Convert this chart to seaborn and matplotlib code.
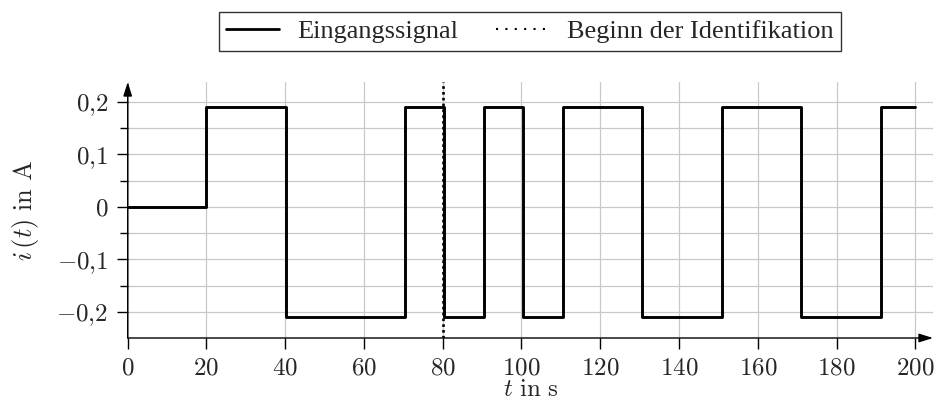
import numpy as np
import pandas as pd
import matplotlib
matplotlib.use("Agg")
import matplotlib.pyplot as plt
from matplotlib.lines import Line2D
import seaborn as sns

# Step input signal: switching instants (s) and current level held from each instant (A)
switch_times = [0, 20.0, 40.1, 70.3, 80.4, 90.5, 100.5, 110.6, 130.7, 150.9, 171.0, 191.2, 200]
current_levels = [0.0, 0.19, -0.21, 0.19, -0.21, 0.19, -0.21, 0.19, -0.21, 0.19, -0.21, 0.19, 0.19]
identification_start = 80

x_ticks = [0, 20, 40, 60, 80, 100, 120, 140, 160, 180, 200]
y_major = [-0.2, -0.1, 0.0, 0.1, 0.2]
y_major_labels = [r"$-0{,}2$", r"$-0{,}1$", r"$0$", r"$0{,}1$", r"$0{,}2$"]
y_minor = [-0.15, -0.05, 0.05, 0.15]

sns.set_theme(style="white")
plt.rcParams["font.family"] = ["Liberation Serif", "DejaVu Serif"]
plt.rcParams["mathtext.fontset"] = "cm"

df = pd.DataFrame({"t": switch_times, "i": current_levels})

fig = plt.figure(figsize=(9.37, 4.13), dpi=100)
ax = fig.add_axes([127.7 / 937, 1 - 338 / 413, (933 - 127.7) / 937, (338 - 82) / 413])

grid_col = "#c8c8c8"
for xv in x_ticks:
    ax.axvline(xv, color=grid_col, lw=0.9, zorder=0)
for yv in y_major + y_minor:
    ax.axhline(yv, color=grid_col, lw=0.9, zorder=0)

sns.lineplot(data=df, x="t", y="i", ax=ax, drawstyle="steps-post", color="black",
             lw=2.1, zorder=3, legend=False)
ax.axvline(identification_start, color="black", lw=1.9, ls=(0, (1, 1.2)), zorder=4)

ax.set_xlim(0, 204.5)
ax.set_ylim(-0.25, 0.238)

for s in ax.spines.values():
    s.set_visible(False)

# axis lines with arrow heads
arrow_kw = dict(arrowstyle="-|>,head_length=0.7,head_width=0.22", color="black", lw=1.0,
                shrinkA=0, shrinkB=0)
ax.annotate("", xy=(1, 0), xytext=(0, 0), xycoords="axes fraction", arrowprops=arrow_kw,
            annotation_clip=False, zorder=5)
ax.annotate("", xy=(0, 1), xytext=(0, 0), xycoords="axes fraction", arrowprops=arrow_kw,
            annotation_clip=False, zorder=5)

ax.set_xticks(x_ticks)
ax.set_xticklabels([rf"${v}$" for v in x_ticks])
ax.set_yticks(y_major)
ax.set_yticklabels(y_major_labels)
ax.set_yticks(y_minor, minor=True)
ax.tick_params(axis="both", which="major", direction="out", length=8, width=1.0,
               color="black", labelsize=18, pad=6, bottom=True, left=True)
ax.tick_params(axis="y", which="minor", direction="out", length=6, width=1.0,
               color="black", left=True)

ax.set_xlabel(r"$t\ \mathrm{in\ s}$", fontsize=18, labelpad=0)
ax.set_ylabel(r"$i\,(t)\ \mathrm{in\ A}$", fontsize=19, labelpad=11)

handles = [Line2D([], [], color="black", lw=2.0),
           Line2D([], [], color="black", lw=1.5, ls=(0, (1, 3.5)))]
labels = ["Eingangssignal", "Beginn der Identifikation"]
leg = fig.legend(handles, labels, loc="upper center", bbox_to_anchor=(530 / 937, 1 - 12 / 413),
                 ncol=2, frameon=True, fancybox=False, edgecolor="black", fontsize=19,
                 handlelength=2.0, columnspacing=1.4, borderpad=0.3, handletextpad=0.7,
                 borderaxespad=0)
leg.get_frame().set_linewidth(1.0)

fig.savefig("out.png", dpi=100)
